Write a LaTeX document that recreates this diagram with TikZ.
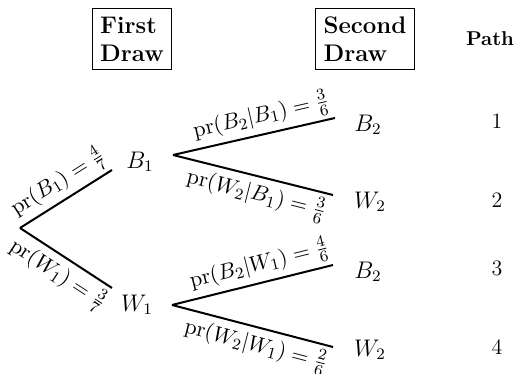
\documentclass[tikz,border=0pt]{standalone}
\usepackage{tikz}
\usetikzlibrary{positioning}

\begin{document}
\begin{tikzpicture}[x=0.5pt, y=0.5pt,
    head/.style={rectangle, draw, semithick, align=left, inner sep=4pt, font=\large\bfseries},
    leaf/.style={inner sep=1pt, font=\fontsize{11.5}{14}\selectfont},
    branch/.style={line width=1pt},
    prob/.style={sloped, inner sep=2pt, font=\fontsize{11}{13}\selectfont}
]
    \useasboundingbox (0,0) rectangle (525,374);

    % Column headings
    \node[head] (first) at (132, 335) {First\\Draw};
    \node[head] (second) at (365, 335) {Second\\Draw};
    \node[font=\bfseries] (path) at (490, 335) {Path};

    % First draw
    \coordinate (root) at (20, 146);
    \coordinate (b1end) at (112, 204);
    \coordinate (w1end) at (112, 86);
    \node[leaf] (b1) at (140, 212) {$B_1$};
    \node[leaf] (w1) at (137, 69) {$W_1$};
    \draw[branch] (root) -- (b1end) node[prob, pos=0.52, above] {$\mathrm{pr}(B_1) = \frac{4}{7}$};
    \draw[branch] (root) -- (w1end) node[prob, pos=0.52, below] {$\mathrm{pr}(W_1) = \frac{3}{7}$};

    % Second draw after B1
    \coordinate (b1fork) at (173, 219);
    \coordinate (bbend) at (335, 256);
    \coordinate (bwend) at (333, 179);
    \node[leaf] (bb) at (368, 249) {$B_2$};
    \node[leaf] (bw) at (370, 172) {$W_2$};
    \draw[branch] (b1fork) -- (bbend) node[prob, pos=0.57, above] {$\mathrm{pr}(B_2|B_1) = \frac{3}{6}$};
    \draw[branch] (b1fork) -- (bwend) node[prob, pos=0.55, below] {$\mathrm{pr}(W_2|B_1) = \frac{3}{6}$};

    % Second draw after W1
    \coordinate (w1fork) at (172, 69);
    \coordinate (wbend) at (333, 109);
    \coordinate (wwend) at (333, 27);
    \node[leaf] (wb) at (368, 102) {$B_2$};
    \node[leaf] (ww) at (370, 24) {$W_2$};
    \draw[branch] (w1fork) -- (wbend) node[prob, pos=0.57, above] {$\mathrm{pr}(B_2|W_1) = \frac{4}{6}$};
    \draw[branch] (w1fork) -- (wwend) node[prob, pos=0.55, below] {$\mathrm{pr}(W_2|W_1) = \frac{2}{6}$};

    % Path numbers
    \foreach \n/\y in {1/253, 2/174, 3/106, 4/27}
        \node[font=\fontsize{11}{13}\selectfont] (p\n) at (497, \y) {\n};
\end{tikzpicture}
\end{document}
